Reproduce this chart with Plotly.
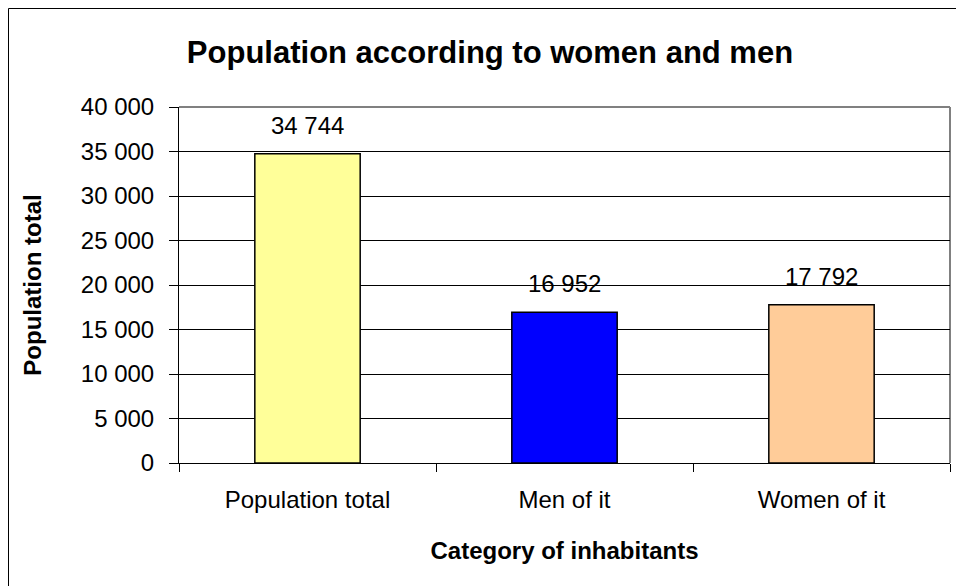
import plotly.graph_objects as go

categories = ["Population total", "Men of it", "Women of it"]
values = [34744, 16952, 17792]
colors = ["#FFFF99", "#0000FF", "#FFCC99"]
title_text = "Population according to women and men"
x_title = "Category of inhabitants"
y_title = "Population total"

W, H = 956, 586
L, R, T, B = 179, 6, 107, 123
pw, ph = W - L - R, H - T - B

FONT = "Liberation Sans, Arial, sans-serif"
FS = 24

fig = go.Figure()
fig.add_trace(go.Bar(
    x=categories, y=values,
    marker=dict(color=colors, line=dict(color="black", width=1.5)),
    hoverinfo="skip",
))

for c, v in zip(categories, values):
    fig.add_annotation(
        x=c, y=v, text=f"{v:,}".replace(",", " "),
        showarrow=False, yanchor="bottom", yshift=13,
        font=dict(family=FONT, size=FS, color="black"),
    )

def px_to_paper_x(px):
    return (px - L) / pw

def px_to_paper_y(py):
    return (H - B - py) / ph

# outer chart border
fig.add_shape(type="rect", xref="paper", yref="paper",
              x0=px_to_paper_x(8.5), x1=px_to_paper_x(970),
              y0=px_to_paper_y(600), y1=px_to_paper_y(8.5),
              line=dict(color="black", width=1), layer="below")
# plot-area top and right border (gray)
fig.add_shape(type="line", xref="paper", yref="paper", x0=0, x1=1, y0=1, y1=1,
              line=dict(color="#808080", width=2), layer="below")
fig.add_shape(type="line", xref="paper", yref="paper", x0=1, x1=1, y0=0, y1=1,
              line=dict(color="#808080", width=2), layer="below")

fig.update_layout(
    width=W, height=H,
    margin=dict(l=L, r=R, t=T, b=B, pad=0),
    paper_bgcolor="white", plot_bgcolor="white",
    separators=". ",
    showlegend=False,
    bargap=0.59,
    font=dict(family=FONT, color="black"),
    title=dict(text=f"<b>{title_text}</b>", x=490 / W, xanchor="center",
               y=1 - 52 / H, yanchor="middle", yref="container",
               font=dict(family=FONT, size=31, color="black")),
    xaxis=dict(
        showline=True, linecolor="black", linewidth=1,
        ticks="outside", ticklen=8, tickcolor="black", tickson="boundaries",
        ticklabelstandoff=15,
        tickfont=dict(family=FONT, size=FS, color="black"),
        title=dict(text=f"<b>{x_title}</b>", standoff=30,
                   font=dict(family=FONT, size=FS, color="black")),
    ),
    yaxis=dict(
        range=[0, 40000], dtick=5000, tickformat=",d",
        showline=True, linecolor="black", linewidth=1,
        ticks="outside", ticklen=9, tickcolor="black",
        ticklabelstandoff=10,
        showgrid=True, gridcolor="black", gridwidth=1,
        zeroline=False,
        tickfont=dict(family=FONT, size=FS, color="black"),
        title=dict(text=f"<b>{y_title}</b>", standoff=32,
                   font=dict(family=FONT, size=FS, color="black")),
    ),
)

fig.write_html("out.html")
